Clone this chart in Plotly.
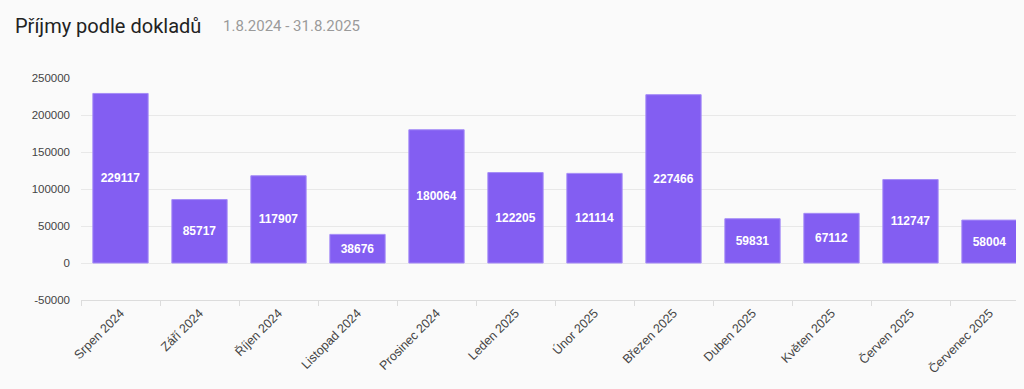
import plotly.graph_objects as go

months = ["Srpen 2024", "Září 2024", "Říjen 2024", "Listopad 2024", "Prosinec 2024",
          "Leden 2025", "Únor 2025", "Březen 2025", "Duben 2025", "Květen 2025",
          "Červen 2025", "Červenec 2025"]
income = [229117, 85717, 117907, 38676, 180064, 122205, 121114, 227466,
          59831, 67112, 112747, 58004]
y_ticks = [-50000, 0, 50000, 100000, 150000, 200000, 250000]

BG = "#fafafa"
OFF = 8  # page body margin
W, H = 1024 - OFF, 389 - OFF
ML, MR, MT = 81 - OFF, 0, 78 - OFF
MB = H - MT - 222
pw = W - ML - MR
ph = H - MT - MB

fig = go.Figure(go.Bar(
    x=months, y=income,
    marker=dict(color="#835ef2", line=dict(color="#a58cf7", width=1)),
    text=[str(v) for v in income],
    textposition="inside", insidetextanchor="middle",
    textfont=dict(color="white", size=12, family="Liberation Sans"),
    texttemplate="<b>%{text}</b>",
    textangle=0,
    hoverinfo="skip",
))

ty = 1 + (MT - (26 - OFF)) / ph
fig.update_layout(
    width=W, height=H,
    margin=dict(l=ML, r=MR, t=MT, b=MB),
    paper_bgcolor=BG, plot_bgcolor=BG,
    bargap=0.3, showlegend=False,
    font=dict(family="Liberation Sans", color="#555"),
    annotations=[
        dict(text="Příjmy podle dokladů", xref="paper", yref="paper",
             x=(13 - 81) / pw, y=ty, xanchor="left", yanchor="middle",
             showarrow=False, font=dict(family="Roboto", size=20, color="#222")),
        dict(text="1.8.2024 - 31.8.2025", xref="paper", yref="paper",
             x=(221 - 81) / pw, y=ty, xanchor="left", yanchor="middle",
             showarrow=False, font=dict(family="Roboto", size=15, color="#9a9a9a")),
    ],
)

fig.update_xaxes(
    type="category", range=[-0.5, -0.5 + pw / 79.0],
    tickangle=-45, tickson="boundaries", ticks="outside", ticklen=5, tickcolor="#dcdcdc",
    showline=True, linecolor="#dcdcdc", linewidth=1,
    showgrid=False, tickfont=dict(size=12.5, color="#444"),
)
fig.update_yaxes(
    range=[-50000, 250000], tickvals=y_ticks, ticktext=[str(v) for v in y_ticks],
    showgrid=True, gridcolor="#e8e8e8", gridwidth=1, zeroline=False,
    ticks="", ticklabelstandoff=10, tickfont=dict(size=11.5, color="#444"),
)

fig.write_html("out.html", post_script=(
    "document.body.style.background='%s';"
    "document.documentElement.style.background='%s';" % (BG, BG)))
